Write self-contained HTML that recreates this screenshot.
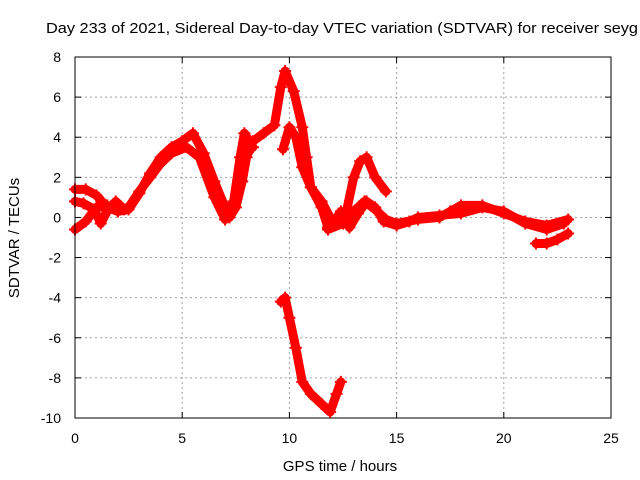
<!DOCTYPE html>
<html><head><meta charset="utf-8"><style>
body{margin:0;background:#fff;overflow:hidden}
svg{display:block;font-family:"Liberation Sans",sans-serif}
</style></head><body>
<svg id="chart" width="640" height="480">
<text x="46" y="33" font-size="15" textLength="592" lengthAdjust="spacingAndGlyphs">Day 233 of 2021, Sidereal Day-to-day VTEC variation (SDTVAR) for receiver seyg</text>
<text x="340" y="471" font-size="15" text-anchor="middle">GPS time / hours</text>
<text transform="translate(19,238) rotate(-90)" font-size="15" text-anchor="middle">SDTVAR / TECUs</text>
<g id="grid"></g><g id="ticks"></g><g id="marks"></g>
<rect x="75" y="57" width="536" height="361" fill="none" stroke="#000"/>
</svg>
<script>
const xTicks=[0,5,10,15,20,25];
const yTicks=[8,6,4,2,0,-2,-4,-6,-8,-10];
const trackA=[[0,-0.6],[0.5,-0.2],[1,0.5],[1.5,0.6],[2,0.3],[2.5,0.4],[3,1.2],[3.5,2.2],[4,3.0],[4.5,3.5],[5,3.8],[5.5,4.2],[6,3.2],[6.5,1.8],[7,0.5],[7.2,0],[7.5,0.5],[7.8,1.8],[8,3],[8.3,3.8],[8.8,4.2],[9.3,4.6],[9.6,6.5],[9.8,7.3],[10.2,6.3],[10.6,4.5],[10.8,3],[11,1.5],[11.5,0.5],[11.8,-0.5],[12.1,-0.2],[12.4,0.3],[12.8,-0.5],[13.2,0.2],[13.6,0.8],[14,0.5],[14.4,-0.2],[15,-0.4],[15.6,-0.2],[16,0],[17,0.1],[18,0.2],[19,0.5],[20,0.3],[21,-0.3],[22,-0.6],[22.8,-0.3]];
const trackB=[[0,1.4],[0.5,1.4],[1,1.1],[1.5,0.5],[2,0.3],[2.5,0.5],[3,1.3],[3.5,2.0],[4,2.7],[4.5,3.2],[5.2,3.5],[5.8,3.0],[6.5,1.0],[7,-0.1],[7.4,0.8],[7.7,3],[7.9,4.2],[8.3,3.5]];
const trackC=[[9.7,3.4],[10,4.5],[10.3,4],[10.6,2.5],[11,1.5],[11.5,0.8],[12,-0.2],[12.6,0],[13,2],[13.3,2.8],[13.6,3],[14,2],[14.5,1.3]];
const trackD=[[0,0.8],[0.4,0.7],[0.9,0.4],[1.2,-0.3],[1.5,0.3],[1.9,0.8],[2.3,0.4]];
const trackE=[[11.8,-0.6],[12.5,-0.3],[13,0.3],[13.5,0.8],[14,0.4],[14.5,-0.1],[15,-0.3],[16,-0.1],[17,0],[17.5,0.3],[18,0.6],[19,0.6],[20,0.2],[21,-0.2],[22,-0.4],[23,-0.1]];
const trackF=[[21.5,-1.3],[22,-1.3],[22.5,-1.1],[23,-0.8]];
const trackG=[[9.6,-4.2],[9.8,-4],[10,-5],[10.3,-6.5],[10.6,-8.2],[11,-8.8],[11.5,-9.3],[11.9,-9.7],[12.2,-8.8],[12.4,-8.2]];
const tracks=[trackA,trackB,trackC,trackD,trackE,trackF,trackG];
const NS='http://www.w3.org/2000/svg';
const X=v=>75+v*536/25, Y=v=>57+(8-v)*361/18;
const g=document.getElementById('grid'),tk=document.getElementById('ticks'),mk=document.getElementById('marks');
function el(t,a,p){const e=document.createElementNS(NS,t);for(const k in a)e.setAttribute(k,a[k]);p.appendChild(e);return e;}
xTicks.forEach(v=>{
 if(v>0&&v<25){const l=el('line',{x1:X(v),x2:X(v),y1:57,y2:418,stroke:'#a0a0a0','stroke-dasharray':'2,3'},g);
 
 }
 el('line',{x1:X(v),x2:X(v),y1:418,y2:412,stroke:'#000'},tk);
 el('line',{x1:X(v),x2:X(v),y1:57,y2:63,stroke:'#000'},tk);
 const t=el('text',{x:X(v),y:443,'font-size':14,'text-anchor':'middle'},tk);t.textContent=v;
 
 
});
yTicks.forEach(v=>{
 if(v<8&&v>-10){const l=el('line',{x1:75,x2:611,y1:Y(v),y2:Y(v),stroke:'#a0a0a0','stroke-dasharray':'2,3'},g);
 
 }
 el('line',{x1:75,x2:81,y1:Y(v),y2:Y(v),stroke:'#000'},tk);
 el('line',{x1:605,x2:611,y1:Y(v),y2:Y(v),stroke:'#000'},tk);
 const t=el('text',{x:61,y:Y(v)+5,'font-size':14,'text-anchor':'end'},tk);t.textContent=v;
 
 
});
tracks.forEach(tr=>{
 const p=el('polyline',{points:tr.map(d=>X(d[0])+','+Y(d[1])).join(' '),fill:'none',stroke:'#f00','stroke-width':9,'stroke-linejoin':'round','stroke-linecap':'round'},mk);
 
 
 tr.forEach(d=>{
  const m=el('path',{d:`M${X(d[0])-6},${Y(d[1])}h12M${X(d[0])},${Y(d[1])-6}v12`,stroke:'#f00','stroke-width':2},mk);
  
  
 });
});
</script>
</body></html>
